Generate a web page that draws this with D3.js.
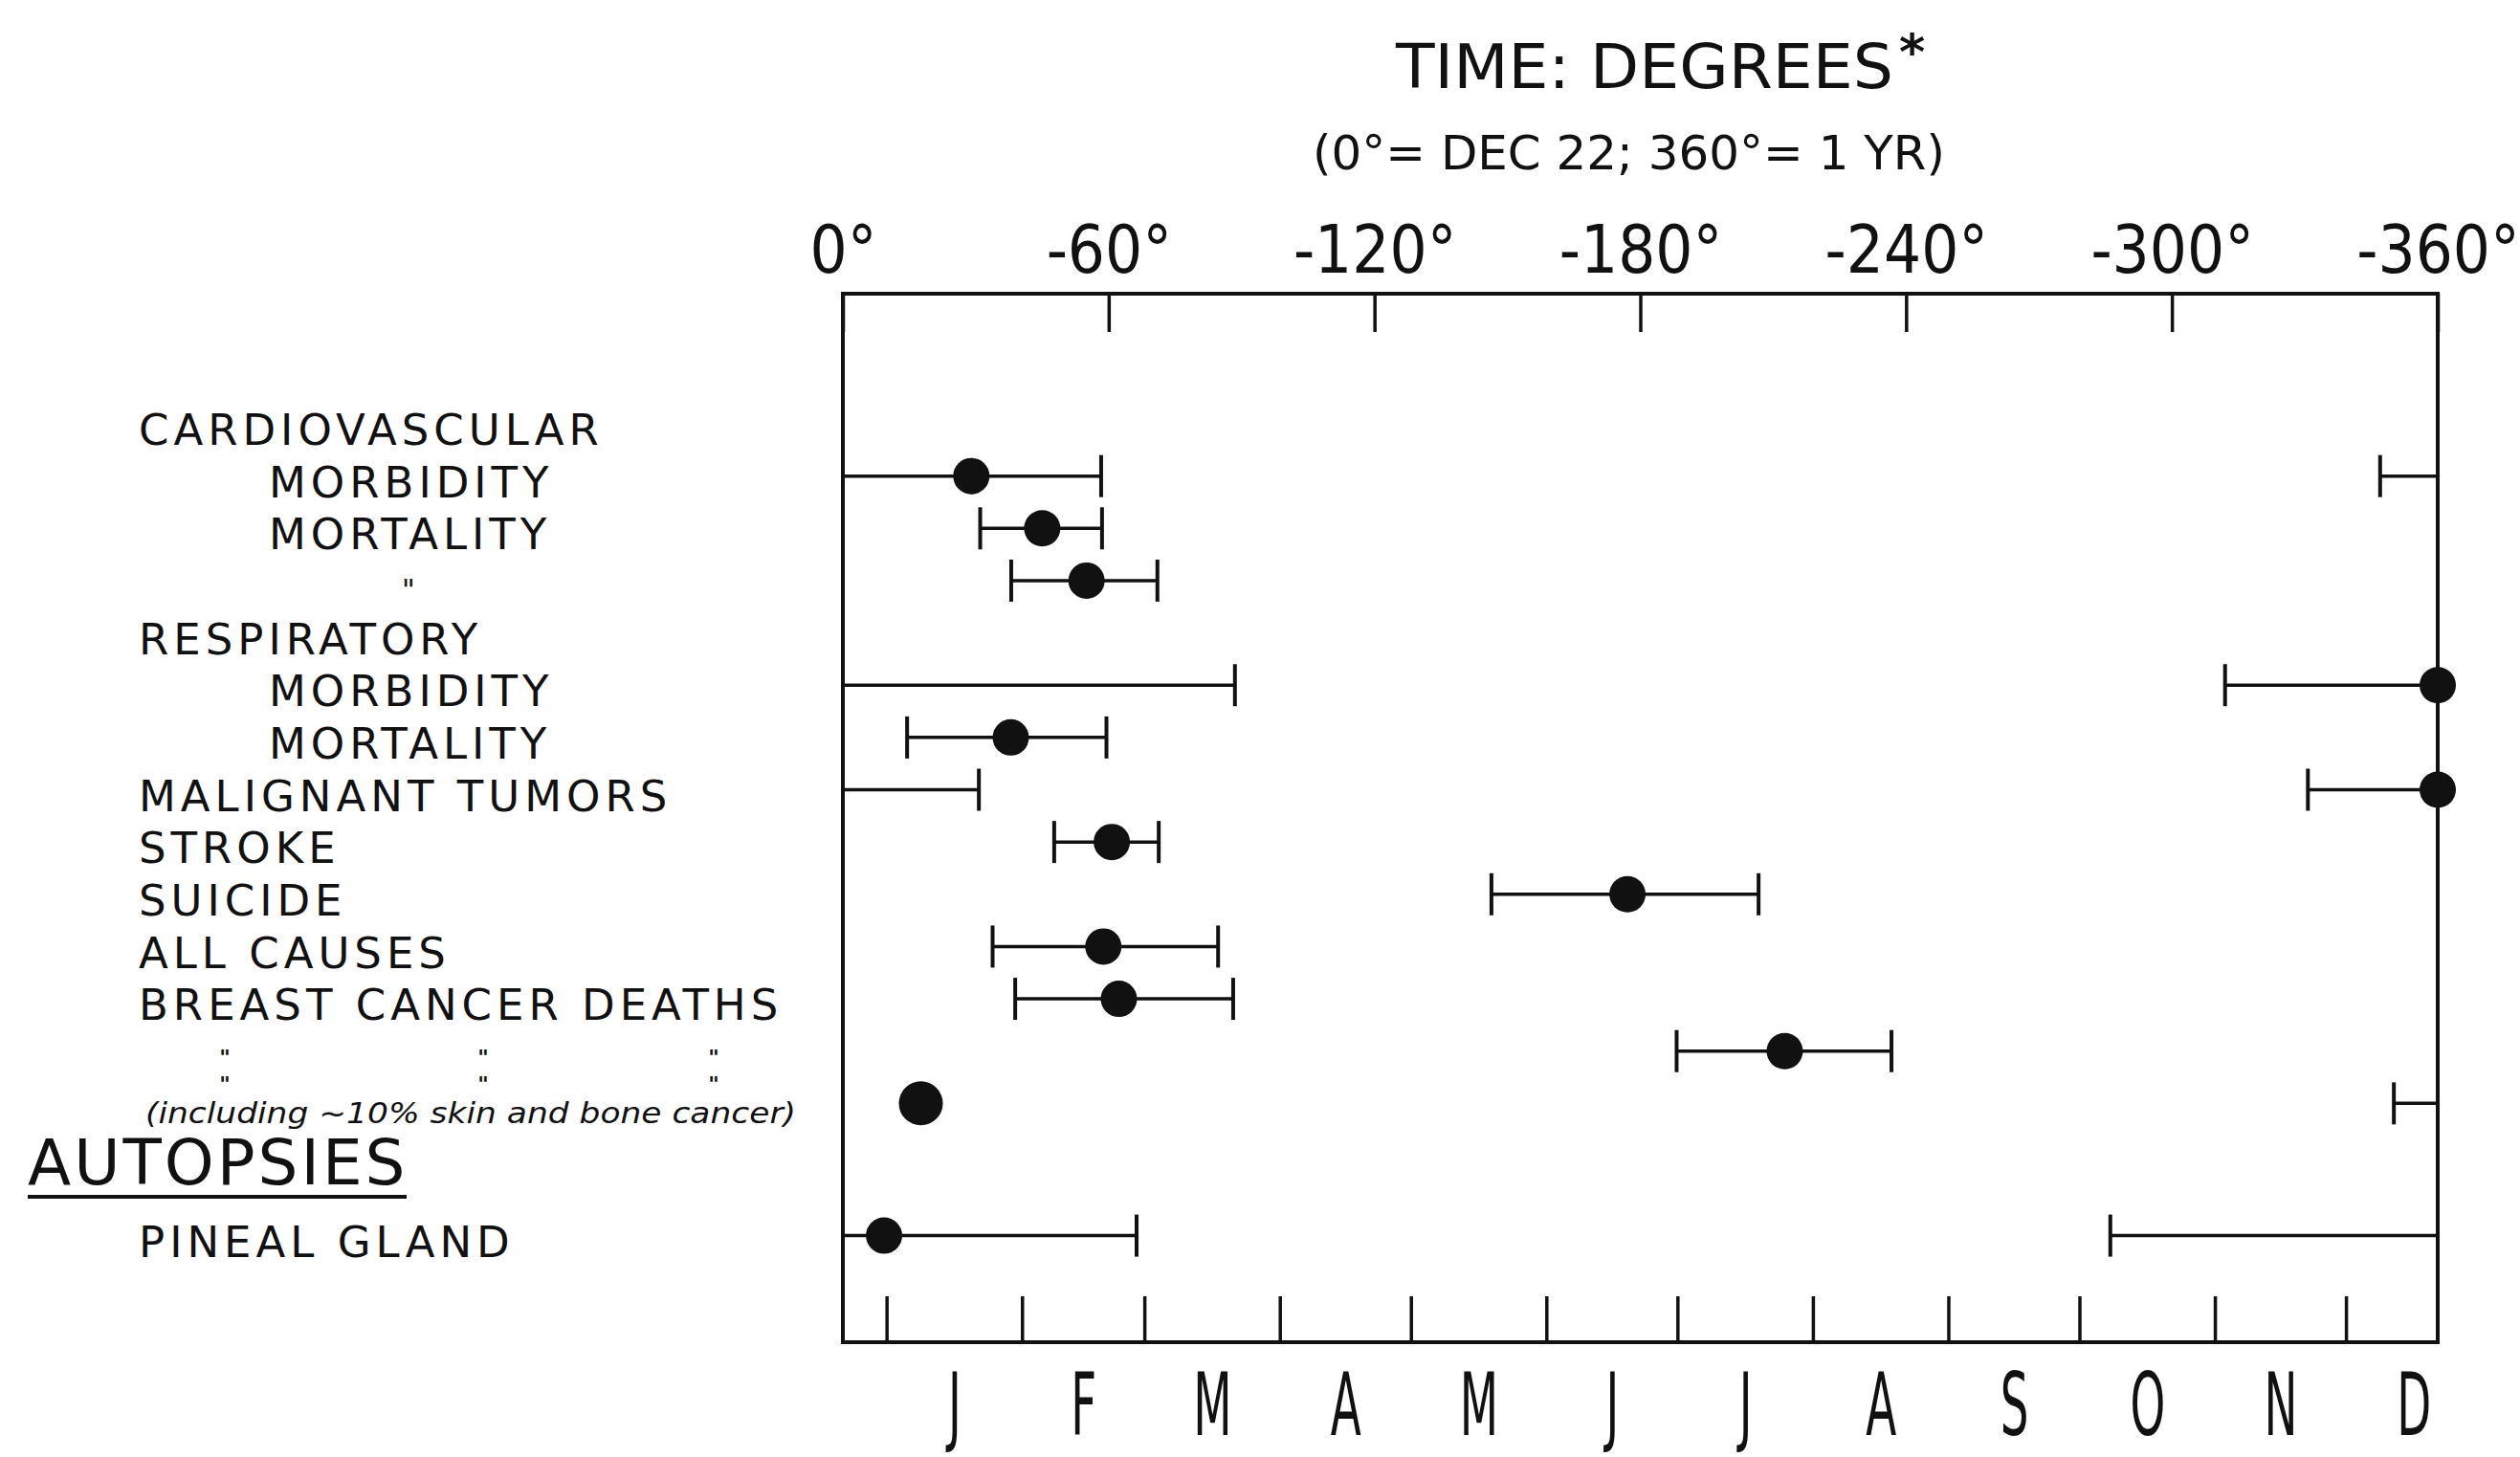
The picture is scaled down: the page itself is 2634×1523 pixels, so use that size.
<!DOCTYPE html>
<html>
<head>
<meta charset="utf-8">
<script src="https://cdn.jsdelivr.net/npm/d3@7"></script>
<style>
  html, body { margin: 0; padding: 0; background: #fff; }
  svg { display: block; font-family: "DejaVu Sans", sans-serif; }
</style>
</head>
<body>
<div id="chart"></div>
<script>
// row labels, top to bottom (ditto marks kept as in the original)
const rowLabels = [
    "CARDIOVASCULAR", "MORBIDITY", "MORTALITY", "\"",
    "RESPIRATORY", "MORBIDITY", "MORTALITY",
    "MALIGNANT TUMORS", "STROKE", "SUICIDE", "ALL CAUSES",
    "BREAST CANCER DEATHS", "\"", "(including ~10% skin and bone cancer)",
    "AUTOPSIES", "PINEAL GLAND"
];

// acrophase estimates (degrees before Dec 22) and their limits
const estimateRow = [1, 2, 3, 5, 6, 7, 8, 9, 10, 11, 12, 13, 15];
const acrophase   = [29, 45, 55, 360, 37.9, 360, 60.7, 177.1, 58.8, 62.3, 212.6, 17.6, 9.3];
const lowerLimit  = [-13, 31, 38, 312, 14.5, 330.7, 47.7, 146.4, 33.8, 38.9, 188.2, 350.1, -73.9];
const upperLimit  = [58.3, 58.5, 71, 448.5, 59.5, 390.7, 71.3, 206.7, 84.7, 88.1, 236.7, 360, 66.3];

// axis ticks
const degreeTicks = [0, 60, 120, 180, 240, 300, 360];
const degreeTickLabels = ["0°", "-60°", "-120°", "-180°", "-240°", "-300°", "-360°"];
const monthLabels = ["J", "F", "M", "A", "M", "J", "J", "A", "S", "O", "N", "D"];
const monthStartDays = [10, 41, 69, 100, 130, 161, 191, 222, 253, 283, 314, 344]; // days after Dec 22

const width = 2634, height = 1523;
const plotTop = 307, plotBottom = 1403;
const ink = "#111";

const svg = d3.select("#chart").append("svg")
    .attr("width", width)
    .attr("height", height);

const x = d3.scaleLinear().domain([0, 360]).range([881, 2548]);
const y = d3.scaleLinear().domain([0, 14]).range([443, 1208]);
const autopsiesRow = rowLabels.indexOf("AUTOPSIES");
const slot = i => i + (i > autopsiesRow ? 0.53 : 0);
const dayToDeg = d => d * 360 / 365;

// titles
svg.append("text")
    .attr("x", 1459).attr("y", 92)
    .attr("font-size", 64).attr("fill", ink)
    .attr("textLength", 520).attr("lengthAdjust", "spacingAndGlyphs")
    .text("TIME: DEGREES");
svg.append("text")
    .attr("x", 1985).attr("y", 72)
    .attr("font-size", 52).attr("font-weight", "bold").attr("fill", ink)
    .text("*");
svg.append("text")
    .attr("x", 1372).attr("y", 177)
    .attr("font-size", 50).attr("fill", ink)
    .attr("textLength", 661).attr("lengthAdjust", "spacingAndGlyphs")
    .text("(0°= DEC 22; 360°= 1 YR)");

// frame
svg.append("rect")
    .attr("x", x(0)).attr("y", plotTop)
    .attr("width", x(360) - x(0)).attr("height", plotBottom - plotTop)
    .attr("fill", "none").attr("stroke", ink).attr("stroke-width", 4);

// top degree axis
svg.append("g")
    .attr("transform", `translate(0,${plotTop})`)
    .call(d3.axisTop(x).tickValues(degreeTicks)
        .tickFormat((d, i) => degreeTickLabels[i])
        .tickSizeInner(-40).tickSizeOuter(0).tickPadding(22))
    .attr("font-family", null)
    .call(g => g.select(".domain").remove())
    .call(g => g.selectAll(".tick line").attr("stroke", ink).attr("stroke-width", 3.5))
    .call(g => g.selectAll(".tick text")
        .attr("font-size", 70).attr("fill", ink)
        .attr("transform", "scale(0.88,1)"));

// bottom month ticks
svg.append("g")
    .attr("transform", `translate(0,${plotBottom})`)
    .call(d3.axisBottom(x).tickValues(monthStartDays.map(dayToDeg))
        .tickFormat("").tickSizeInner(-48).tickSizeOuter(0))
    .call(g => g.select(".domain").remove())
    .call(g => g.selectAll(".tick line").attr("stroke", ink).attr("stroke-width", 3.5));

// month letters centred in each month
const monthMid = monthStartDays.map((d, i) => {
    const next = i < monthStartDays.length - 1 ? monthStartDays[i + 1] : monthStartDays[0] + 365;
    return dayToDeg((d + next) / 2);
});
svg.append("g")
    .attr("transform", `translate(0,${plotBottom})`)
    .call(d3.axisBottom(x).tickValues(monthMid)
        .tickFormat((d, i) => monthLabels[i])
        .tickSize(0).tickPadding(33))
    .attr("font-family", null)
    .call(g => g.select(".domain").remove())
    .call(g => g.selectAll(".tick text")
        .attr("font-size", 90).attr("fill", ink)
        .attr("transform", "scale(0.52,1)"));

// row labels
const subRows = [1, 2, 5, 6];
const dittoX = [235, 505, 746];
const labelY = i => y(slot(i)) + 6;

rowLabels.forEach((label, i) => {
    const cy = labelY(i);
    if (i === 3) {
        svg.append("text")
            .attr("x", 427).attr("y", cy + 14)
            .attr("text-anchor", "middle").attr("font-size", 30).attr("fill", ink)
            .text(label);
    } else if (i === 12) {
        // two rows of ditto marks under BREAST CANCER DEATHS
        dittoX.forEach(dx => svg.append("text")
            .attr("x", dx).attr("y", 1113)
            .attr("text-anchor", "middle").attr("font-size", 22)
            .attr("font-weight", "bold").attr("fill", ink)
            .text(label));
        dittoX.forEach(dx => svg.append("text")
            .attr("x", dx).attr("y", 1141)
            .attr("text-anchor", "middle").attr("font-size", 22)
            .attr("font-weight", "bold").attr("fill", ink)
            .text(label));
    } else if (i === 13) {
        svg.append("text")
            .attr("x", 152).attr("y", 1174)
            .attr("font-size", 30).attr("font-style", "italic").attr("fill", ink)
            .attr("textLength", 680).attr("lengthAdjust", "spacingAndGlyphs")
            .text(label);
    } else if (i === autopsiesRow) {
        svg.append("text")
            .attr("x", 29).attr("y", cy + 24)
            .attr("font-size", 66).attr("letter-spacing", 3).attr("fill", ink)
            .text(label);
        svg.append("line")
            .attr("x1", 29).attr("x2", 425)
            .attr("y1", cy + 37).attr("y2", cy + 37)
            .attr("stroke", ink).attr("stroke-width", 4);
    } else {
        svg.append("text")
            .attr("x", subRows.includes(i) ? 281 : 145)
            .attr("y", cy).attr("dy", "0.36em")
            .attr("font-size", 45).attr("letter-spacing", 5).attr("fill", ink)
            .text(label);
    }
});

// estimates with limits, wrapping round the year where needed
const estimates = estimateRow.map((row, i) => ({
    row: row, phase: acrophase[i], lo: lowerLimit[i], hi: upperLimit[i]
}));

function pieces(lo, hi) {
    if (lo < 0) return [[lo + 360, 360], [0, hi]];
    if (hi > 360) return [[lo, 360], [0, hi - 360]];
    return [[lo, hi]];
}
const wrap = v => (v < 0 ? v + 360 : v > 360 ? v - 360 : v);

const marks = svg.append("g");
estimates.forEach(d => {
    const cy = y(slot(d.row));
    pieces(d.lo, d.hi).filter(p => p[1] > p[0]).forEach(p => {
        marks.append("line")
            .attr("x1", x(p[0])).attr("x2", x(p[1]))
            .attr("y1", cy).attr("y2", cy)
            .attr("stroke", ink).attr("stroke-width", 3.5);
    });
    [wrap(d.lo), wrap(d.hi)].filter(v => v % 360 !== 0).forEach(v => {
        marks.append("line")
            .attr("x1", x(v)).attr("x2", x(v))
            .attr("y1", cy - 22).attr("y2", cy + 22)
            .attr("stroke", ink).attr("stroke-width", 4);
    });
    marks.append("circle")
        .attr("cx", x(d.phase)).attr("cy", cy)
        .attr("r", d.row === 13 ? 23 : 19)
        .attr("fill", ink);
});
</script>
</body>
</html>
